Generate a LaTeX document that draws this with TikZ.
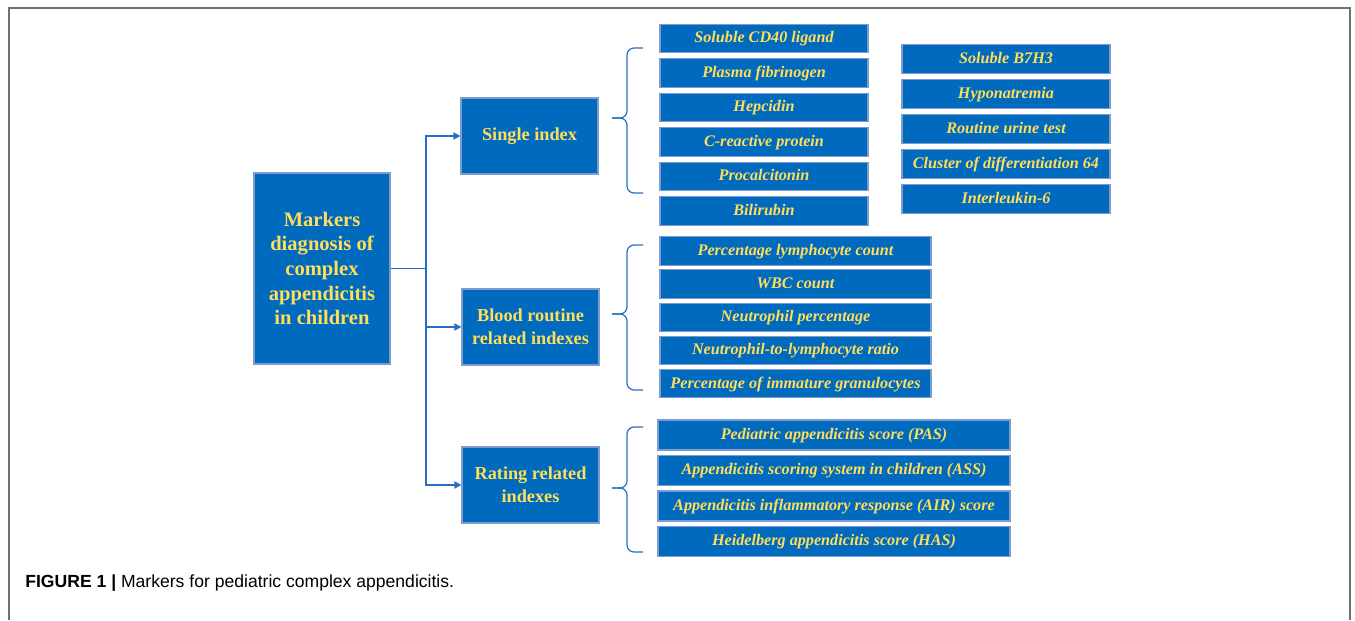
\documentclass[tikz,border=0pt]{standalone}
\usepackage{fontspec}
\setmainfont{Liberation Serif}
\newfontfamily\capfont{Liberation Sans}
\usepackage{tikz}
\usetikzlibrary{arrows.meta, positioning, calc}
\definecolor{boxblue}{RGB}{0, 106, 190}
\definecolor{edgeblue}{RGB}{125, 155, 205}
\definecolor{linkblue}{RGB}{40, 110, 200}
\definecolor{txtyellow}{RGB}{255, 222, 89}
\definecolor{framegray}{RGB}{112, 112, 112}
\tikzset{
  mainbox/.style={draw=edgeblue, line width=0.6pt, fill=boxblue, text=txtyellow, inner sep=0pt, align=center, font=\bfseries\fontsize{11.7}{14}\selectfont},
  groupbox/.style={draw=edgeblue, line width=0.6pt, fill=boxblue, text=txtyellow, inner sep=0pt, align=center, minimum width=2.74cm, minimum height=1.52cm, font=\bfseries\fontsize{10.4}{12.9}\selectfont},
  itembox/.style={draw=edgeblue, line width=0.6pt, fill=boxblue, text=txtyellow, inner sep=0pt, align=center, minimum height=0.57cm, text height=1.55ex, text depth=0.45ex, font=\bfseries\itshape\fontsize{9.2}{11}\selectfont},
  link/.style={draw=linkblue, line width=0.9pt},
  bracket/.style={draw=linkblue, line width=0.7pt, rounded corners=4pt}
}

\begin{document}
\begin{tikzpicture}
  \useasboundingbox (0,0) rectangle (27.1,12.4);

  % Frame
  \draw[framegray, line width=0.9pt] (0.18,0) -- (0.18,12.24) -- (27.0,12.24) -- (27.0,0);

  % Root and groups
  \node[mainbox, minimum width=2.72cm, minimum height=3.82cm] (root) at (6.44, 7.03) {Markers\\diagnosis of\\complex\\appendicitis\\in children};
  \node[groupbox] (single) at (10.59, 9.68) {Single index};
  \node[groupbox] (blood) at (10.61, 5.86) {Blood routine\\related indexes};
  \node[groupbox] (rating) at (10.61, 2.70) {Rating related\\indexes};

  % Branches
  \coordinate (split) at (8.52, 7.03);
  \draw[link] (root.east) -- (split);
  \draw[link, -{Triangle[length=4pt, width=4pt]}] (split) |- (single.west);
  \draw[link, -{Triangle[length=4pt, width=4pt]}] (split) |- (blood.west);
  \draw[link, -{Triangle[length=4pt, width=4pt]}] (split) |- (rating.west);

  % Single index items
  \foreach \txt [count=\i from 0] in {Soluble CD40 ligand, Plasma fibrinogen, Hepcidin, C-reactive protein, Procalcitonin, Bilirubin}
    \node[itembox, minimum width=4.16cm] (sa\i) at (15.28, 11.63-0.69*\i) {\txt};
  \foreach \txt [count=\i from 0] in {Soluble B7H3, Hyponatremia, Routine urine test, Cluster of differentiation 64, Interleukin-6}
    \node[itembox, minimum width=4.16cm] (sb\i) at (20.12, 11.22-0.70*\i) {\txt};

  % Blood routine items
  \foreach \txt [count=\i from 0] in {Percentage lymphocyte count, WBC count, Neutrophil percentage, Neutrophil-to-lymphocyte ratio, Percentage of immature granulocytes}
    \node[itembox, minimum width=5.42cm] (bl\i) at (15.91, 7.38-0.663*\i) {\txt};

  % Rating items
  \foreach \txt [count=\i from 0] in {Pediatric appendicitis score (PAS), Appendicitis scoring system in children (ASS), Appendicitis inflammatory response (AIR) score, Heidelberg appendicitis score (HAS)}
    \node[itembox, minimum width=7.04cm, minimum height=0.6cm] (ra\i) at (16.68, 3.70-0.71*\i) {\txt};

  % Brackets
  \draw[bracket] (12.86,11.44) -- (12.54,11.44) -- (12.54,10.04) -- (12.24,10.04);
  \draw[bracket] (12.24,10.04) -- (12.54,10.04) -- (12.54,8.54) -- (12.86,8.54);
  \draw[bracket] (12.86,7.50) -- (12.54,7.50) -- (12.54,6.12) -- (12.24,6.12);
  \draw[bracket] (12.24,6.12) -- (12.54,6.12) -- (12.54,4.60) -- (12.86,4.60);
  \draw[bracket] (12.86,3.86) -- (12.54,3.86) -- (12.54,2.64) -- (12.24,2.64);
  \draw[bracket] (12.24,2.64) -- (12.54,2.64) -- (12.54,1.36) -- (12.86,1.36);

  % Caption
  \node[anchor=west, inner sep=0pt, font=\capfont\fontsize{10}{12}\selectfont] (caption) at (0.5, 0.74) {\textbf{FIGURE 1 |} Markers for pediatric complex appendicitis.};
\end{tikzpicture}
\end{document}
